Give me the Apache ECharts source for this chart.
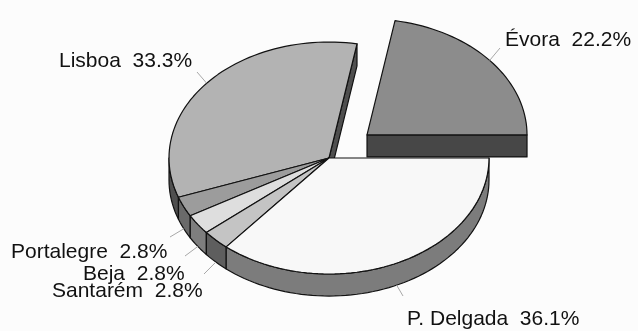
<!DOCTYPE html>
<html>
<head>
<meta charset="utf-8">
<script src="https://cdn.jsdelivr.net/npm/echarts@6/dist/echarts.min.js"></script>
<style>
  html, body { margin: 0; padding: 0; background: #fcfcfc; }
  #chart { width: 638px; height: 331px; }
</style>
</head>
<body>
<div id="chart"></div>
<script>
// Share of respondents by district (%)
const cities = ['Évora', 'Lisboa', 'Portalegre', 'Beja', 'Santarém', 'P. Delgada'];
const shares = [22.2, 33.3, 2.8, 2.8, 2.8, 36.1];

// Slice styling
const topColors = ['#8c8c8c', '#b3b3b3', '#9c9c9c', '#dedede', '#c4c4c4', '#f8f8f8'];
const sideColors = ['#474747', '#4f4f4f', '#6a6a6a', '#7e7e7e', '#5e5e5e', '#7c7c7c'];
const explode = [0.31, 0, 0, 0, 0, 0];

// Label layout in pixels: text left/middle and leader line end
const labelAt = [[505, 40], [59, 61], [11, 252], [83, 274], [52, 291], [407, 319]];
const leaderEnd = [[500, 48], [197, 72], [170, 237], [185, 256], [204, 274], [403, 296]];

const DEPTH = 0.19;       // slice thickness in y-axis units
const DEG = Math.PI / 180;

const total = shares.reduce((a, b) => a + b, 0);
const startAngles = [];
let acc = 0;
shares.forEach(v => { startAngles.push(acc / total * 360); acc += v; });

function renderItem(params, api) {
  const i = params.dataIndex;
  const value = api.value(1);
  const a0 = startAngles[i];
  const a1 = a0 + value / total * 360;
  const mid = (a0 + a1) / 2 * DEG;
  const ox = explode[i] * Math.cos(mid);
  const oy = explode[i] * Math.sin(mid);
  const pt = (deg, r, dz) => api.coord([ox + r * Math.cos(deg * DEG), oy + r * Math.sin(deg * DEG) - dz]);
  const arc = (from, to, dz) => {
    const n = Math.max(2, Math.ceil(Math.abs(to - from) / 2));
    const out = [];
    for (let k = 0; k <= n; k++) out.push(pt(from + (to - from) * k / n, 1, dz));
    return out;
  };
  const isExploded = explode[i] > 0;
  const prevExploded = explode[(i + shares.length - 1) % shares.length] > 0;
  const nextExploded = explode[(i + 1) % shares.length] > 0;
  const base = isExploded ? 0 : 10;
  const lineStyle = { stroke: '#111', lineWidth: 1.2, lineJoin: 'round' };
  const children = [];

  // Radial cut faces (only where the neighbour does not hide them)
  const radial = (deg) => [pt(deg, 0, 0), pt(deg, 1, 0), pt(deg, 1, DEPTH), pt(deg, 0, DEPTH)];
  if ((isExploded || prevExploded) && Math.cos(a0 * DEG) > 0) {
    children.push({ type: 'polygon', z2: base + 1, shape: { points: radial(a0) },
      style: Object.assign({ fill: sideColors[i] }, lineStyle) });
  }
  if ((isExploded || nextExploded) && Math.cos(a1 * DEG) < 0) {
    children.push({ type: 'polygon', z2: base + 1, shape: { points: radial(a1) },
      style: Object.assign({ fill: sideColors[i] }, lineStyle) });
  }

  // Outer wall on the front half of the ellipse
  const w0 = Math.max(a0, 180), w1 = Math.min(a1, 360);
  if (w1 > w0) {
    const pts = arc(w0, w1, 0).concat(arc(w1, w0, DEPTH));
    children.push({ type: 'polygon', z2: base + 2, shape: { points: pts },
      style: Object.assign({ fill: sideColors[i] }, lineStyle) });
  }

  // Top face
  const top = [pt(0, 0, 0)].concat(arc(a0, a1, 0));
  children.push({ type: 'polygon', z2: base + 3, shape: { points: top },
    style: Object.assign({ fill: topColors[i] }, lineStyle) });

  // Leader line and label
  const md = (a0 + a1) / 2;
  const edge = pt(md, 1, Math.sin(md * DEG) < 0 ? DEPTH : 0);
  children.push({ type: 'line', z2: 30,
    shape: { x1: edge[0], y1: edge[1], x2: leaderEnd[i][0], y2: leaderEnd[i][1] },
    style: { stroke: '#a8a8a8', lineWidth: 1 } });
  children.push({ type: 'text', z2: 31, x: labelAt[i][0], y: labelAt[i][1],
    style: { text: api.value(0) + '  ' + value.toFixed(1) + '%', fill: '#111',
      font: '21px "Liberation Sans", Arial, sans-serif', align: 'left', verticalAlign: 'middle' } });

  return { type: 'group', children: children };
}

const chart = echarts.init(document.getElementById('chart'));
chart.setOption({
  backgroundColor: '#fcfcfc',
  animation: false,
  grid: { left: 169, right: 149, top: 42, bottom: 57 },
  xAxis: { type: 'value', min: -1, max: 1, show: false },
  yAxis: { type: 'value', min: -1, max: 1, show: false },
  series: [{
    type: 'custom',
    clip: false,
    renderItem: renderItem,
    encode: { x: 1, y: 1 },
    data: cities.map((c, k) => [c, shares[k]])
  }]
});
</script>
</body>
</html>
